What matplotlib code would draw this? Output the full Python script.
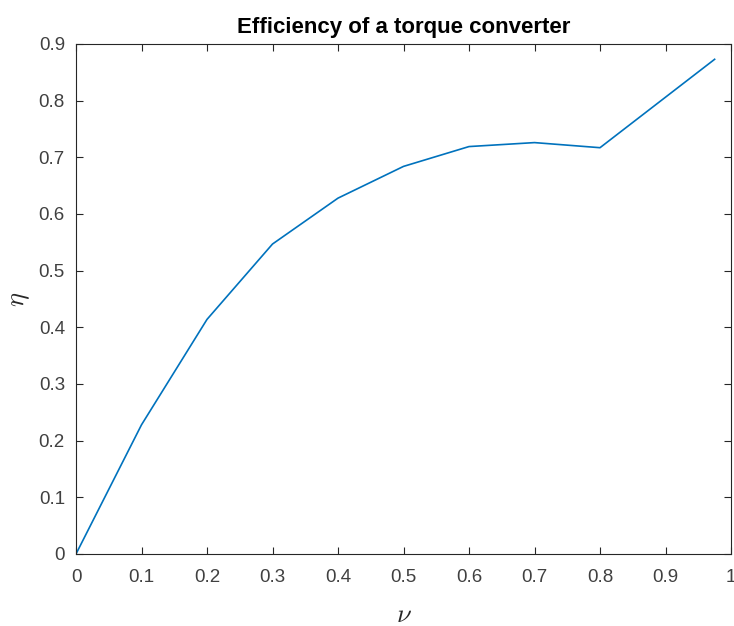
import numpy as np
import matplotlib
matplotlib.use("Agg")
import matplotlib.pyplot as plt

# speed ratio nu and efficiency eta
nu = [0.0, 0.1, 0.2, 0.3, 0.4, 0.5, 0.6, 0.7, 0.8, 0.975]
eta = [0.0, 0.228, 0.414, 0.547, 0.628, 0.684, 0.719, 0.726, 0.717, 0.873]

plt.rcParams['font.family'] = ['Liberation Sans', 'DejaVu Sans']
plt.rcParams['mathtext.fontset'] = 'cm'

fig = plt.figure(figsize=(7.34, 6.26), dpi=100)
ax = fig.add_axes([76 / 734, 1 - 554 / 626, 655 / 734, 510 / 626])

ax.plot(nu, eta, color='#0072BD', linewidth=1.2)

ax.set_xlim(0, 1)
ax.set_ylim(0, 0.9)
ax.set_xticks(np.arange(0, 1.01, 0.1))
ax.set_xticklabels(['0', '0.1', '0.2', '0.3', '0.4', '0.5', '0.6', '0.7', '0.8', '0.9', '1'])
ax.set_yticks(np.arange(0, 0.91, 0.1))
ax.set_yticklabels(['0', '0.1', '0.2', '0.3', '0.4', '0.5', '0.6', '0.7', '0.8', '0.9'])

dark = '#262626'
for s in ax.spines.values():
    s.set_color(dark)
    s.set_linewidth(0.8)
ax.tick_params(direction='in', top=True, right=True, length=5, width=0.8,
               colors=dark, labelsize=13.5)
ax.tick_params(axis='x', pad=11)
ax.tick_params(axis='y', pad=8)
for lbl in ax.get_xticklabels() + ax.get_yticklabels():
    lbl.set_color('#404040')

ax.set_xlabel(r'$\nu$', fontsize=19, color=dark, labelpad=12)
ax.set_ylabel(r'$\eta$', fontsize=19, color=dark, labelpad=5)
ax.set_title('Efficiency of a torque converter', fontsize=16, fontweight='bold', pad=8)

fig.savefig('out.png', dpi=100)
